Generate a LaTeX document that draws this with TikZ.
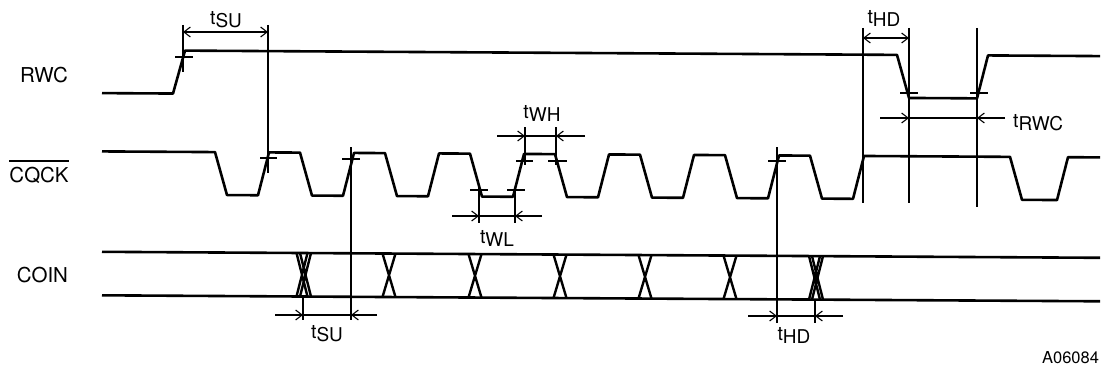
\documentclass[tikz,border=0pt]{standalone}
\usepackage{fontspec}
\setmainfont{TeX Gyre Heros}
\usetikzlibrary{arrows.meta}
\newcommand\tmlabel[1]{t\raisebox{-3pt}{\fontsize{19}{19}\selectfont #1}}
\def\rwH{49.5}\def\rwL{92.5}
\def\cqH{150.8}\def\cqL{193.7}
\def\coU{251.2}\def\coL{294.7}
\begin{document}
\begin{tikzpicture}[x=1pt,y=-1pt,
  wave/.style={line width=2.6pt, line join=round},
  xing/.style={line width=2.4pt},
  dim/.style={line width=1.1pt},
  arrR/.style={dim,-{Straight Barb[length=6.5pt,width=10pt]}},
  arrB/.style={dim,{Straight Barb[length=6.5pt,width=10pt]}-{Straight Barb[length=6.5pt,width=10pt]}},
  sig/.style={inner sep=0pt, anchor=base, font=\fontsize{20.5}{20.5}\selectfont},
  tl/.style={inner sep=0pt, font=\fontsize{19.5}{19.5}\selectfont},
]
\useasboundingbox (0,0) rectangle (1104,369);

% ---------- waveforms (scan is slightly tilted) ----------
\begin{scope}[yslant=-0.006]
\draw[wave] (102,\rwL) -- (173,\rwL) -- (185,\rwH) -- (897,\rwH) -- (909,\rwL)
  -- (977,\rwL) -- (988,\rwH) -- (1100,\rwH);
\draw[wave] (102,\cqH)
  -- (215,\cqH) -- (227,\cqL) -- (258,\cqL) -- (269,\cqH)
  -- (300,\cqH) -- (312,\cqL) -- (343,\cqL) -- (354,\cqH)
  -- (385,\cqH) -- (397,\cqL) -- (428,\cqL) -- (439,\cqH)
  -- (470,\cqH) -- (482,\cqL) -- (513,\cqL) -- (524,\cqH)
  -- (555,\cqH) -- (567,\cqL) -- (598,\cqL) -- (609,\cqH)
  -- (640,\cqH) -- (652,\cqL) -- (683,\cqL) -- (694,\cqH)
  -- (725,\cqH) -- (737,\cqL) -- (768,\cqL) -- (779,\cqH)
  -- (810,\cqH) -- (822,\cqL) -- (853,\cqL) -- (864,\cqH)
  -- (1010,\cqH) -- (1022,\cqL) -- (1057,\cqL) -- (1068,\cqH) -- (1100,\cqH);
\draw[wave] (102,\coU) -- (1100,\coU);
\draw[wave] (102,\coL) -- (1100,\coL);
\foreach \c in {389,475,560,645,730}{
  \draw[xing] ({\c-6.5},\coU) -- ({\c+6.5},\coL) ({\c+6.5},\coU) -- ({\c-6.5},\coL);
}
\foreach \c in {302,305.5,814.5,817.5}{
  \draw[xing] ({\c-5.5},\coU) -- ({\c+5.5},\coL) ({\c+5.5},\coU) -- ({\c-5.5},\coL);
}
\end{scope}

% ---------- signal names ----------
\node[sig] (rwc) at (44,82.5) {RWC};
\node[sig] (cq) at (39,182) {CQCK};
\draw[line width=1.2pt] ([yshift=5.5pt]cq.north west) -- ([yshift=5.5pt]cq.north east);
\node[sig] (coin) at (42.5,282) {COIN};
\node[inner sep=0pt, anchor=base, font=\fontsize{16.5}{16.5}\selectfont] (ref) at (1070.5,363) {A06084};

% ---------- tSU (RWC -> CQCK) ----------
\draw[dim] (183,25) -- (183,72);
\draw[dim] (175,57) -- (193,57);
\draw[dim] (268,25) -- (268,173);
\draw[dim] (260,158) -- (277,158);
\draw[arrB] (183,32) -- (268,32);
\node[tl] (tsu1) at (226,19.5) {\tmlabel{SU}};

% ---------- tSU (COIN -> CQCK) ----------
\draw[dim] (351,147) -- (351,320);
\draw[dim] (342,159) -- (360,159);
\draw[dim] (303,296) -- (303,320);
\draw[arrR] (275,315) -- (303,315);
\draw[dim] (303,315) -- (351,315);
\draw[arrR] (377,315) -- (351,315);
\node[tl] (tsu2) at (327,334) {\tmlabel{SU}};

% ---------- tWL ----------
\draw[dim] (479,188) -- (479,223);
\draw[dim] (515,188) -- (515,223);
\draw[dim] (470,190) -- (488,190);
\draw[dim] (507,190) -- (525,190);
\draw[arrR] (452,216) -- (479,216);
\draw[dim] (479,216) -- (515,216);
\draw[arrR] (542,216) -- (515,216);
\node[tl] (twl) at (497,238) {\tmlabel{WL}};

% ---------- tWH ----------
\draw[dim] (525,127) -- (525,165);
\draw[dim] (556,127) -- (556,165);
\draw[dim] (516,161) -- (533,161);
\draw[dim] (548,161) -- (567,161);
\draw[arrR] (497,136) -- (525,136);
\draw[dim] (525,136) -- (556,136);
\draw[arrR] (585,136) -- (556,136);
\node[tl] (twh) at (542,113) {\tmlabel{WH}};

% ---------- tHD (CQCK -> COIN) ----------
\draw[dim] (777,147) -- (777,323);
\draw[dim] (768,161) -- (786,161);
\draw[dim] (815,300) -- (815,323);
\draw[arrR] (748,316) -- (777,316);
\draw[dim] (777,316) -- (815,316);
\draw[arrR] (843,316) -- (815,316);
\node[tl] (thd2) at (794,335) {\tmlabel{HD}};

% ---------- tHD (CQCK -> RWC) and tRWC ----------
\draw[dim] (863,28) -- (863,203);
\draw[dim] (909,28) -- (909,203);
\draw[dim] (977,28) -- (977,207);
\draw[arrB] (863,38) -- (909,38);
\node[tl] (thd1) at (884,18) {\tmlabel{HD}};
\draw[dim] (900,93) -- (918,93);
\draw[dim] (970,93) -- (988,93);
\draw[arrR] (880,118) -- (909,118);
\draw[dim] (909,118) -- (977,118);
\draw[arrR] (1005,118) -- (977,118);
\node[tl, anchor=west] (trwc) at (1013,123) {\tmlabel{RWC}};
\end{tikzpicture}
\end{document}
